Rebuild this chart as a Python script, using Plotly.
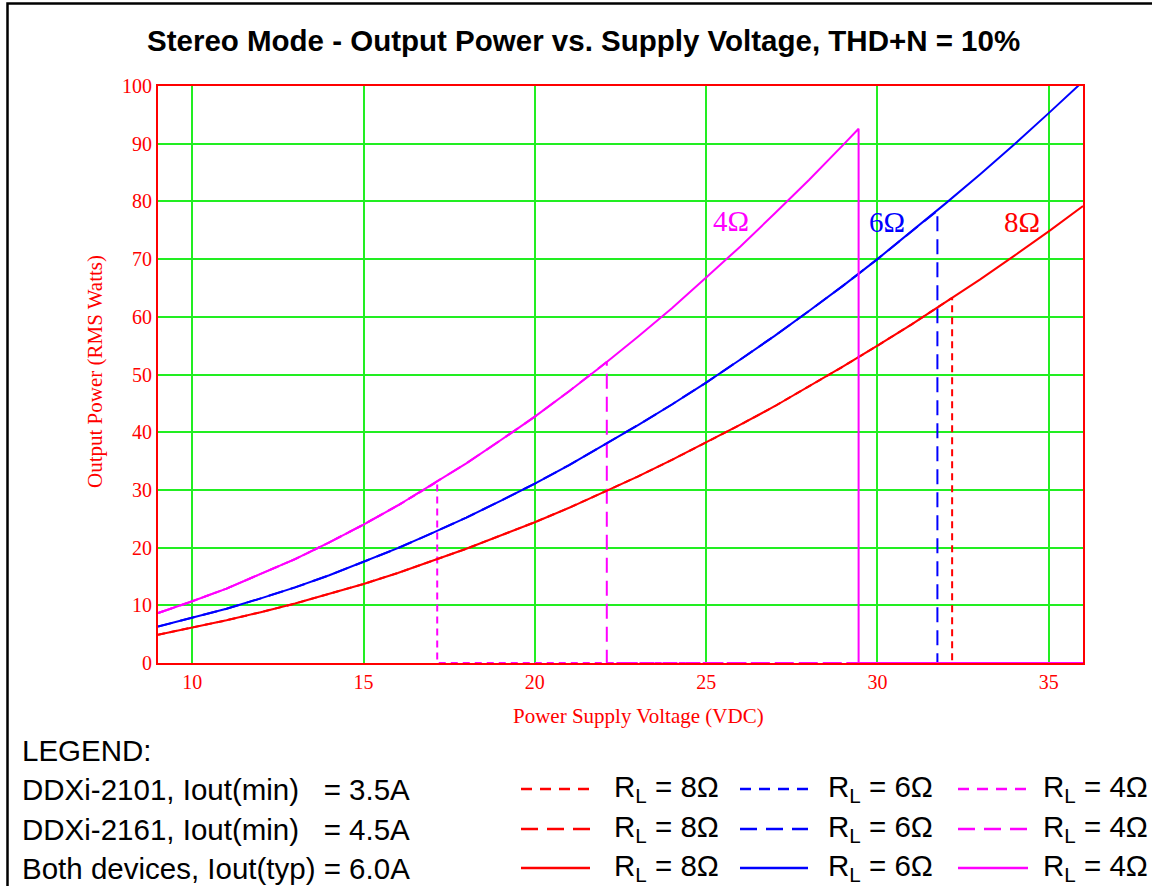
import plotly.graph_objects as go

# ---- data ----
volts = [9, 10, 11, 12, 13, 14, 15, 16, 17, 18, 19, 20, 21, 22, 23, 24, 25, 26, 27,
         28, 29, 30, 31, 32, 33, 34, 35, 36]
p_8ohm = [4.9, 6.1, 7.4, 8.8, 10.3, 12.0, 13.7, 15.6, 17.7, 19.8, 22.1, 24.4, 26.9, 29.6,
          32.3, 35.2, 38.2, 41.3, 44.5, 47.9, 51.4, 55.0, 58.7, 62.6, 66.5, 70.6, 74.8, 79.2]
p_6ohm = [6.3, 7.8, 9.4, 11.2, 13.1, 15.2, 17.5, 19.9, 22.5, 25.2, 28.1, 31.1, 34.3, 37.7,
          41.2, 44.8, 48.6, 52.6, 56.7, 61.0, 65.4, 70.0, 74.8, 79.7, 84.7, 89.9, 95.3, 100.8]
p_4ohm = [8.65, 10.7, 12.9, 15.4, 18.0, 20.9, 24.0, 27.3, 30.9, 34.6, 38.6, 42.7, 47.1, 51.7,
          56.5, 61.5, 66.8, 72.2, 77.9, 83.7, 89.8]

# current-limit cutoffs (voltage, power at cutoff)
cut_35A_8ohm = (32.18, 63.3)
cut_35A_4ohm = (17.15, 31.4)
cut_45A_6ohm = (31.75, 78.4)
cut_45A_4ohm = (22.1, 52.2)
cut_60A_4ohm = (29.45, 92.6)

x_ticks = [10, 15, 20, 25, 30, 35]
y_ticks = [0, 10, 20, 30, 40, 50, 60, 70, 80, 90, 100]
v_end = 36

RED, BLUE, MAG = "#ff0000", "#0000ff", "#ff00ff"
SERIF = "Liberation Serif"
SANS = "Liberation Sans"


def limited(v, p, cut):
    xs = [a for a in v if a < cut[0]]
    ys = p[:len(xs)]
    return xs + [cut[0], cut[0], v_end], list(ys) + [cut[1], 0, 0]


fig = go.Figure()

SHORT = "7px,5px"
LONG = "15px,8px"

# 3.5 A (short dash)
for cut, p, c in [(cut_35A_8ohm, p_8ohm, RED), (cut_35A_4ohm, p_4ohm, MAG)]:
    x, y = limited(volts, p, cut)
    fig.add_trace(go.Scatter(x=x, y=y, mode="lines", line=dict(color=c, width=2, dash=SHORT),
                             hoverinfo="skip"))
# 4.5 A (long dash)
for cut, p, c in [(cut_45A_6ohm, p_6ohm, BLUE), (cut_45A_4ohm, p_4ohm, MAG)]:
    x, y = limited(volts, p, cut)
    fig.add_trace(go.Scatter(x=x, y=y, mode="lines", line=dict(color=c, width=2, dash=LONG),
                             hoverinfo="skip"))
# 6.0 A (solid)
fig.add_trace(go.Scatter(x=volts, y=p_8ohm, mode="lines", line=dict(color=RED, width=2)))
fig.add_trace(go.Scatter(x=volts, y=p_6ohm, mode="lines", line=dict(color=BLUE, width=2)))
x4, y4 = limited(volts, p_4ohm, cut_60A_4ohm)
fig.add_trace(go.Scatter(x=x4, y=y4, mode="lines", line=dict(color=MAG, width=2)))

# ---- layout geometry (pixels -> paper) ----
L, R, T, B = 158, 1083, 86, 663
W, H = 1152, 886


def px(xp):
    return (xp - L) / (R - L)


def py(yp):
    return (B - yp) / (B - T)


annotations = []


def txt(s, x, y, size, color="black", family=SANS, xanchor="center", yanchor="middle",
        angle=0, bold=False):
    if bold:
        s = "<b>" + s + "</b>"
    annotations.append(dict(text=s, x=px(x), y=py(y), xref="paper", yref="paper",
                            showarrow=False, xanchor=xanchor, yanchor=yanchor,
                            textangle=angle, font=dict(size=size, color=color, family=family)))


txt("Stereo Mode - Output Power vs. Supply Voltage, THD+N = 10%", 583, 41, 29.5, bold=True)
txt("Output Power (RMS Watts)", 95, 372, 21, RED, SERIF, angle=-90)
txt("Power Supply Voltage (VDC)", 638, 716, 21, RED, SERIF)
txt("4Ω", 731, 221, 29, MAG, SERIF)
txt("6Ω", 887, 222, 29, BLUE, SERIF)
txt("8Ω", 1022, 222, 29, RED, SERIF)

txt("LEGEND:", 20, 750, 29.5, xanchor="left")
rows = [
    ("DDXi-2101, Iout(min)\u00a0\u00a0\u00a0= 3.5A", 789, "11px,8px"),
    ("DDXi-2161, Iout(min)\u00a0\u00a0\u00a0= 4.5A", 829, "17px,9px"),
    ("Both devices, Iout(typ) = 6.0A", 868, "solid"),
]
legend_cols = [(521, 590, 612, RED, "8"), (740, 808, 826, BLUE, "6"), (958, 1028, 1041, MAG, "4")]

shapes = []
for label, yrow, dash in rows:
    txt(label, 20, yrow, 29.5, xanchor="left")
    for x0, x1, xl, c, ohm in legend_cols:
        shapes.append(dict(type="line", xref="paper", yref="paper", x0=px(x0), x1=px(x1),
                           y0=py(yrow), y1=py(yrow), line=dict(color=c, width=2.5, dash=dash)))
        txt("R<sub>L</sub> = " + ohm + "Ω", xl, yrow - 1, 29.5, xanchor="left")

# outer black frame
shapes.append(dict(type="rect", xref="paper", yref="paper", x0=px(7.5), x1=px(1160),
                   y0=py(895), y1=py(3.5), line=dict(color="black", width=2.5)))

axis_common = dict(showgrid=True, gridcolor="#22ee22", gridwidth=1.5, showline=True,
                   mirror=True, linecolor=RED, linewidth=2, ticks="", zeroline=False,
                   tickfont=dict(family=SERIF, size=20, color=RED), automargin=False)

fig.update_layout(
    width=W, height=H,
    margin=dict(l=L, r=W - R, t=T, b=H - B),
    paper_bgcolor="white", plot_bgcolor="white",
    showlegend=False,
    xaxis=dict(range=[9, v_end], tickvals=x_ticks, **axis_common),
    yaxis=dict(range=[0, 100], tickvals=y_ticks, **axis_common),
    annotations=annotations,
    shapes=shapes,
)

fig.write_html("out.html", config={"displayModeBar": False},
               post_script="document.body.style.margin='0';document.body.style.overflow='hidden';")
